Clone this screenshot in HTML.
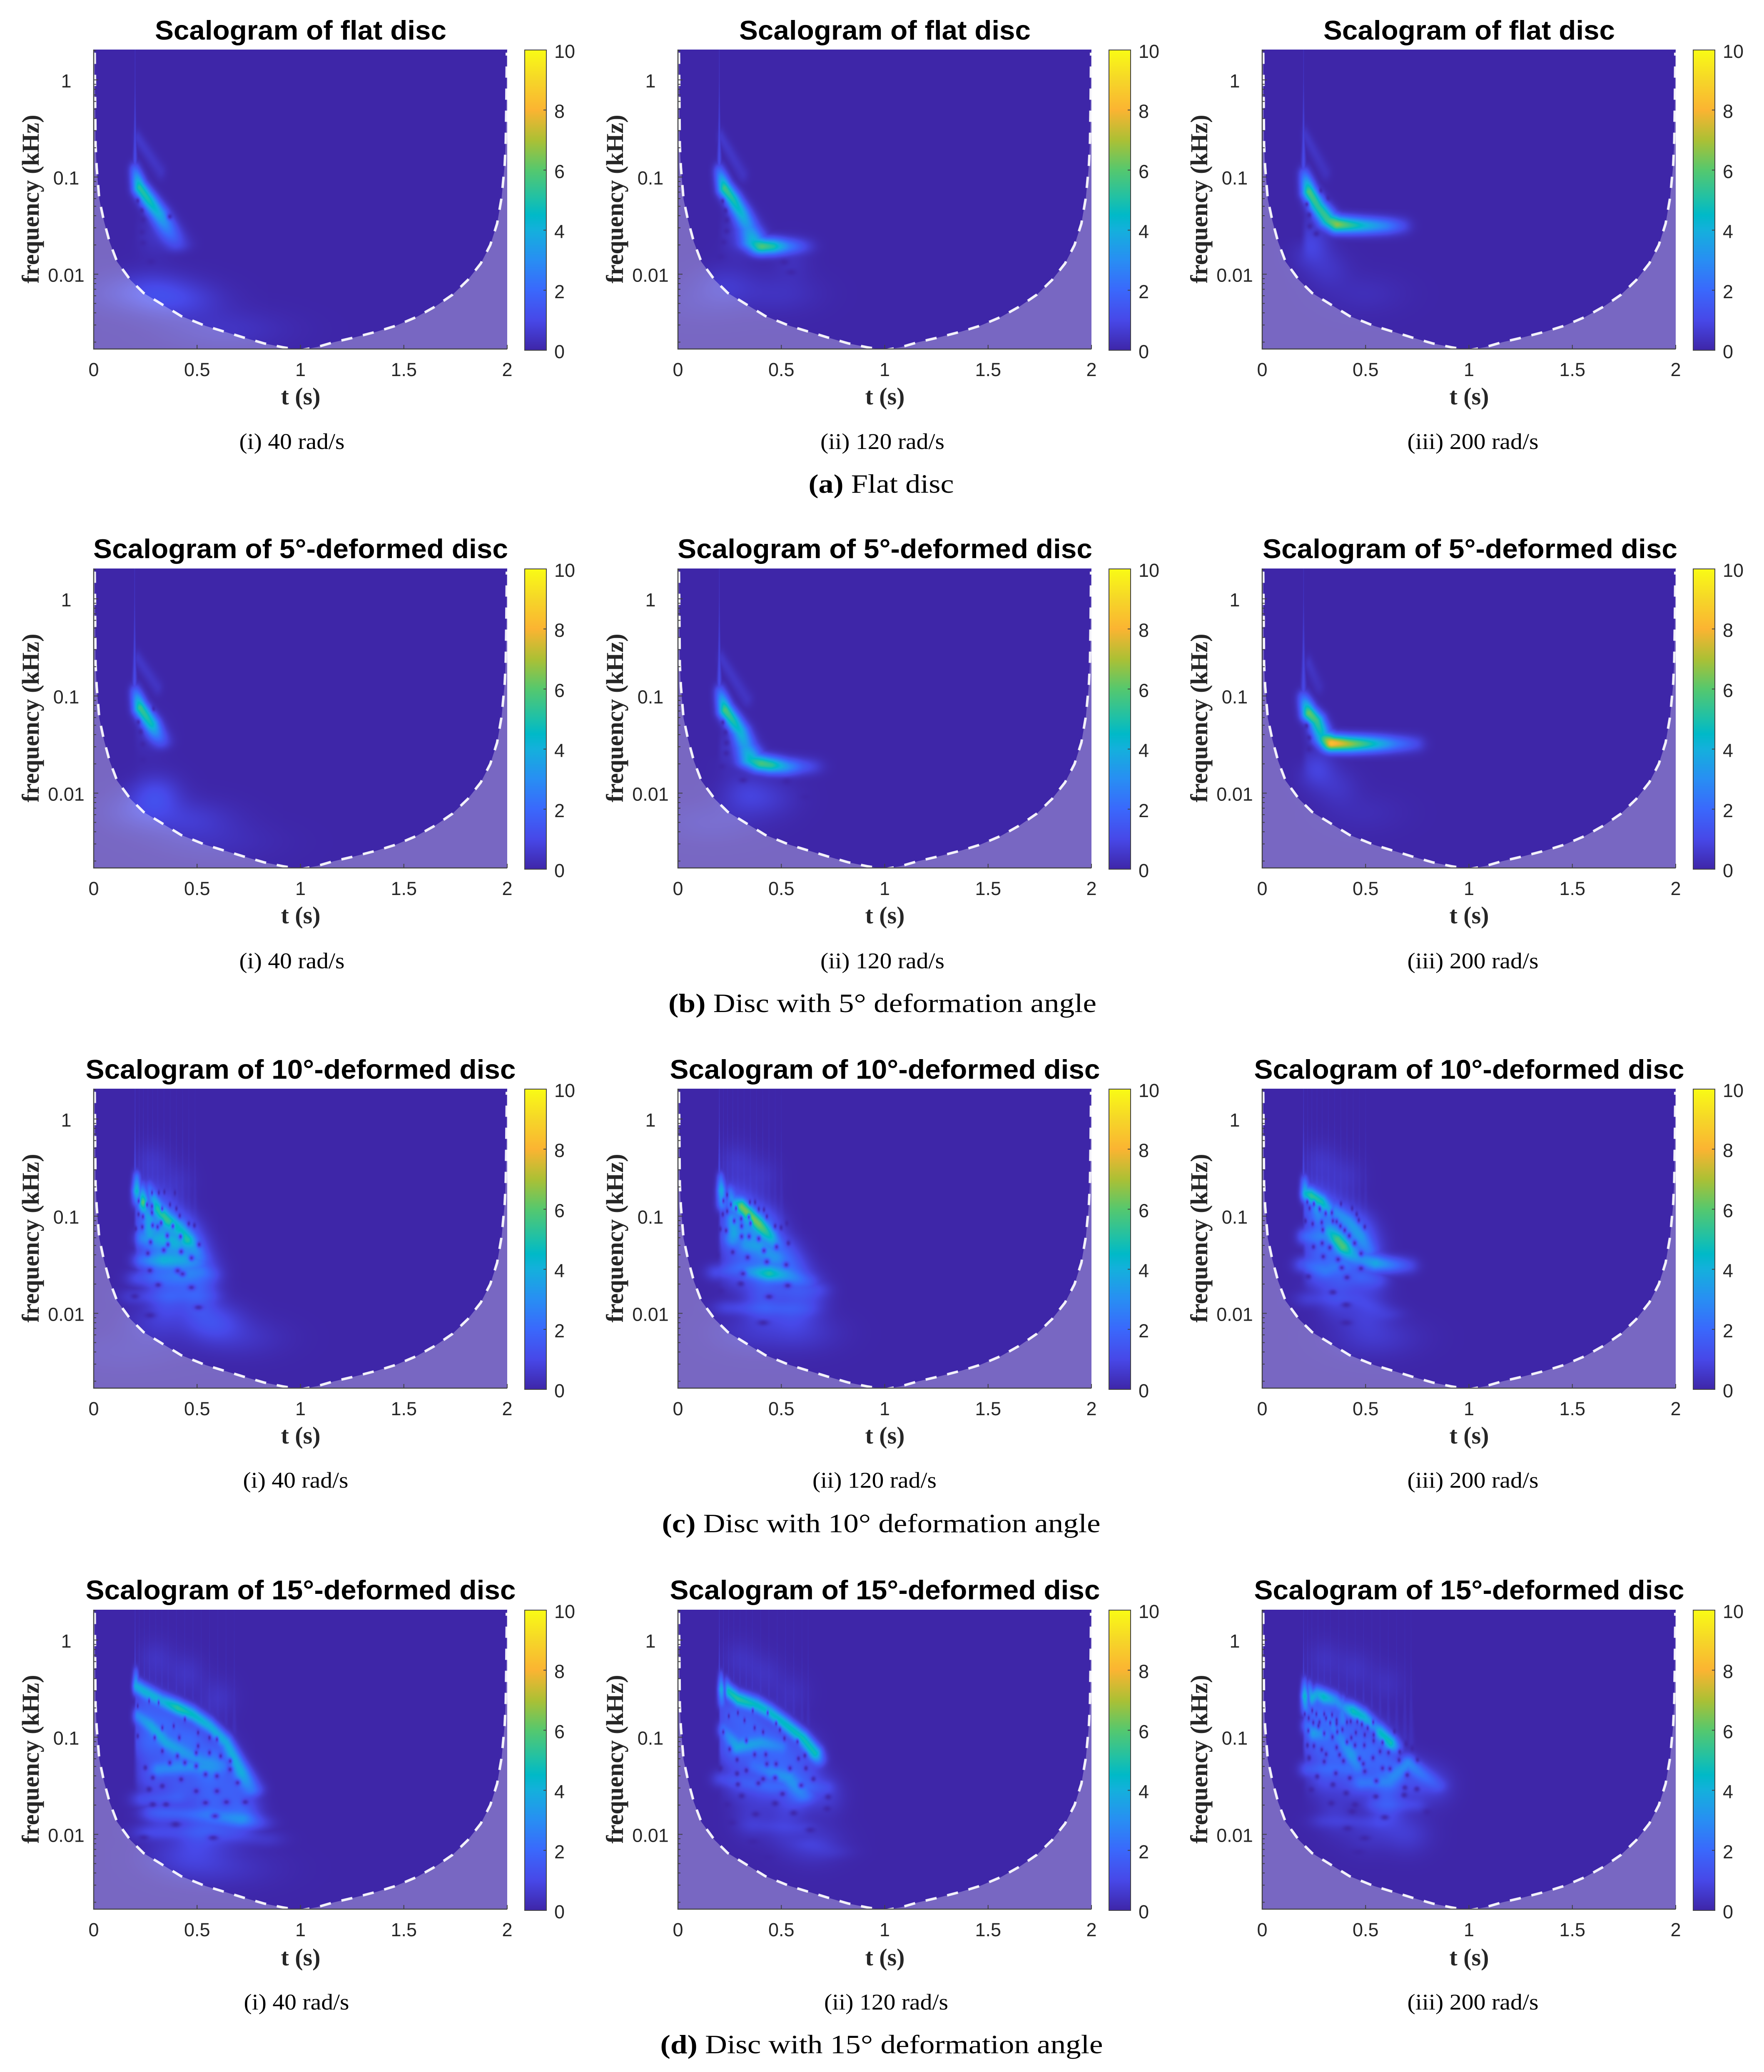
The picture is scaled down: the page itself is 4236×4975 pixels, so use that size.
<!DOCTYPE html>
<html lang="en">
<head>
<meta charset="utf-8">
<title>Scalograms of flat and deformed discs</title>
<style>
html,body{margin:0;padding:0;background:#fff;}
#figure{position:relative;width:4236px;height:4975px;overflow:hidden;background:#fff;}
#figure canvas{position:absolute;display:block;}
#overlay{position:absolute;left:0;top:0;}
.title{font:bold 65px "Liberation Sans",Arial,sans-serif;fill:#000;text-anchor:middle;}
.axl{font:bold 58px "Liberation Serif","Times New Roman",serif;fill:#262626;text-anchor:middle;}
.sub{font:54px "Liberation Serif","Times New Roman",serif;fill:#000;text-anchor:middle;}
.cap{font:64px "Liberation Serif","Times New Roman",serif;fill:#000;text-anchor:middle;}
.cap tspan{font-weight:bold;}
.tick{font:45px "Liberation Sans",Arial,sans-serif;fill:#262626;}
</style>
</head>
<body>
<div id="figure">
<svg id="overlay" width="4236" height="4975" viewBox="0 0 4236 4975" xmlns="http://www.w3.org/2000/svg">
<defs id="defs"></defs>
<g id="axes-layer"></g>

<text class="title" x="722" y="95" textLength="700" lengthAdjust="spacingAndGlyphs">Scalogram of flat disc</text>
<text class="title" x="2125" y="95" textLength="700" lengthAdjust="spacingAndGlyphs">Scalogram of flat disc</text>
<text class="title" x="3528" y="95" textLength="700" lengthAdjust="spacingAndGlyphs">Scalogram of flat disc</text>
<text class="title" x="722" y="1340" textLength="996" lengthAdjust="spacingAndGlyphs">Scalogram of 5°-deformed disc</text>
<text class="title" x="2125" y="1340" textLength="996" lengthAdjust="spacingAndGlyphs">Scalogram of 5°-deformed disc</text>
<text class="title" x="3530" y="1340" textLength="996" lengthAdjust="spacingAndGlyphs">Scalogram of 5°-deformed disc</text>
<text class="title" x="722" y="2590" textLength="1033" lengthAdjust="spacingAndGlyphs">Scalogram of 10°-deformed disc</text>
<text class="title" x="2125" y="2590" textLength="1033" lengthAdjust="spacingAndGlyphs">Scalogram of 10°-deformed disc</text>
<text class="title" x="3528" y="2590" textLength="1033" lengthAdjust="spacingAndGlyphs">Scalogram of 10°-deformed disc</text>
<text class="title" x="722" y="3840" textLength="1033" lengthAdjust="spacingAndGlyphs">Scalogram of 15°-deformed disc</text>
<text class="title" x="2125" y="3840" textLength="1033" lengthAdjust="spacingAndGlyphs">Scalogram of 15°-deformed disc</text>
<text class="title" x="3528" y="3840" textLength="1033" lengthAdjust="spacingAndGlyphs">Scalogram of 15°-deformed disc</text>

<text class="axl" x="722" y="971">t (s)</text>
<text class="axl" x="2125" y="971">t (s)</text>
<text class="axl" x="3528" y="971">t (s)</text>
<text class="axl" x="722" y="2217">t (s)</text>
<text class="axl" x="2125" y="2217">t (s)</text>
<text class="axl" x="3528" y="2217">t (s)</text>
<text class="axl" x="722" y="3466">t (s)</text>
<text class="axl" x="2125" y="3466">t (s)</text>
<text class="axl" x="3528" y="3466">t (s)</text>
<text class="axl" x="722" y="4719">t (s)</text>
<text class="axl" x="2125" y="4719">t (s)</text>
<text class="axl" x="3528" y="4719">t (s)</text>

<text class="axl" transform="translate(93,478) rotate(-90)" textLength="405" lengthAdjust="spacingAndGlyphs">frequency (kHz)</text>
<text class="axl" transform="translate(1496,478) rotate(-90)" textLength="405" lengthAdjust="spacingAndGlyphs">frequency (kHz)</text>
<text class="axl" transform="translate(2899,478) rotate(-90)" textLength="405" lengthAdjust="spacingAndGlyphs">frequency (kHz)</text>
<text class="axl" transform="translate(93,1724) rotate(-90)" textLength="405" lengthAdjust="spacingAndGlyphs">frequency (kHz)</text>
<text class="axl" transform="translate(1496,1724) rotate(-90)" textLength="405" lengthAdjust="spacingAndGlyphs">frequency (kHz)</text>
<text class="axl" transform="translate(2899,1724) rotate(-90)" textLength="405" lengthAdjust="spacingAndGlyphs">frequency (kHz)</text>
<text class="axl" transform="translate(93,2973) rotate(-90)" textLength="405" lengthAdjust="spacingAndGlyphs">frequency (kHz)</text>
<text class="axl" transform="translate(1496,2973) rotate(-90)" textLength="405" lengthAdjust="spacingAndGlyphs">frequency (kHz)</text>
<text class="axl" transform="translate(2899,2973) rotate(-90)" textLength="405" lengthAdjust="spacingAndGlyphs">frequency (kHz)</text>
<text class="axl" transform="translate(93,4224) rotate(-90)" textLength="405" lengthAdjust="spacingAndGlyphs">frequency (kHz)</text>
<text class="axl" transform="translate(1496,4224) rotate(-90)" textLength="405" lengthAdjust="spacingAndGlyphs">frequency (kHz)</text>
<text class="axl" transform="translate(2899,4224) rotate(-90)" textLength="405" lengthAdjust="spacingAndGlyphs">frequency (kHz)</text>

<text class="sub" x="701" y="1078" textLength="253" lengthAdjust="spacingAndGlyphs">(i) 40 rad/s</text>
<text class="sub" x="2119" y="1078" textLength="298" lengthAdjust="spacingAndGlyphs">(ii) 120 rad/s</text>
<text class="sub" x="3537" y="1078" textLength="315" lengthAdjust="spacingAndGlyphs">(iii) 200 rad/s</text>
<text class="sub" x="701" y="2325" textLength="253" lengthAdjust="spacingAndGlyphs">(i) 40 rad/s</text>
<text class="sub" x="2119" y="2325" textLength="298" lengthAdjust="spacingAndGlyphs">(ii) 120 rad/s</text>
<text class="sub" x="3537" y="2325" textLength="315" lengthAdjust="spacingAndGlyphs">(iii) 200 rad/s</text>
<text class="sub" x="710" y="3572" textLength="253" lengthAdjust="spacingAndGlyphs">(i) 40 rad/s</text>
<text class="sub" x="2100" y="3572" textLength="298" lengthAdjust="spacingAndGlyphs">(ii) 120 rad/s</text>
<text class="sub" x="3537" y="3572" textLength="315" lengthAdjust="spacingAndGlyphs">(iii) 200 rad/s</text>
<text class="sub" x="712" y="4825" textLength="253" lengthAdjust="spacingAndGlyphs">(i) 40 rad/s</text>
<text class="sub" x="2128" y="4825" textLength="298" lengthAdjust="spacingAndGlyphs">(ii) 120 rad/s</text>
<text class="sub" x="3537" y="4825" textLength="315" lengthAdjust="spacingAndGlyphs">(iii) 200 rad/s</text>

<text class="cap" x="2116" y="1183" textLength="349" lengthAdjust="spacingAndGlyphs"><tspan>(a)</tspan>&#160;Flat disc</text>
<text class="cap" x="2119" y="2430" textLength="1028" lengthAdjust="spacingAndGlyphs"><tspan>(b)</tspan>&#160;Disc with 5° deformation angle</text>
<text class="cap" x="2116" y="3679" textLength="1053" lengthAdjust="spacingAndGlyphs"><tspan>(c)</tspan>&#160;Disc with 10° deformation angle</text>
<text class="cap" x="2117" y="4930" textLength="1063" lengthAdjust="spacingAndGlyphs"><tspan>(d)</tspan>&#160;Disc with 15° deformation angle</text>
</svg>
</div>

<script>
// Axis ticks
const xTicks = [0, 0.5, 1, 1.5, 2];
const xTickLabels = ["0", "0.5", "1", "1.5", "2"];
const yMajorTicks = [1, 0.1, 0.01];
const yMajorLabels = ["1", "0.1", "0.01"];
const yMinorTicks = [2, 0.9, 0.8, 0.7, 0.6, 0.5, 0.4, 0.3, 0.2, 0.09, 0.08, 0.07, 0.06, 0.05, 0.04, 0.03, 0.02, 0.009, 0.008, 0.007, 0.006, 0.005, 0.004, 0.003, 0.002];
const colorbarTicks = [0, 2, 4, 6, 8, 10];
const colorbarLabels = ["0", "2", "4", "6", "8", "10"];

// Cone of influence: time (s) and log10 frequency (kHz)
const coiT = [0.005, 0.007, 0.009, 0.0146, 0.027, 0.049, 0.077, 0.113, 0.177, 0.241, 0.332, 0.423, 0.541, 0.724, 0.824, 0.915, 1, 1.08, 1.161, 1.262, 1.371, 1.462, 1.562, 1.654, 1.736, 1.809, 1.872, 1.918, 1.951, 1.973, 1.988, 1.993, 1.996, 1.998];
const coiF = [0.28, -0.19, -0.67, -0.905, -1.227, -1.447, -1.668, -1.871, -2.058, -2.193, -2.312, -2.431, -2.532, -2.651, -2.712, -2.752, -2.782, -2.75, -2.7, -2.65, -2.59, -2.53, -2.44, -2.33, -2.21, -2.06, -1.89, -1.7, -1.48, -1.21, -0.87, -0.63, -0.19, 0.28];

// Colour map: position, r, g, b
const parulaStops = [[0,62,38,168],[0.1,71,72,232],[0.2,58,104,252],[0.3,40,142,243],[0.4,20,176,220],[0.45,0,185,200],[0.5,28,192,170],[0.6,85,200,110],[0.7,172,192,52],[0.8,251,180,50],[0.9,246,214,40],[1,249,251,21]];

// Panel a1: flat disc, 40 rad/s
const a1RidgeT = [.2,.222,.268,.314,.359,.396,null,.213,.323];
const a1RidgeF = [-.94,-1.108,-1.244,-1.38,-1.55,-1.685,null,-.6,-.94];
const a1RidgeV = [2,5.2,4.9,4,2.4,1.1,null,.55,.4];
const a1HoleT = [.213,.232,.237,.232,.237,.277,.368];
const a1HoleF = [-1.244,-1.346,-1.44,-1.566,-1.678,-1.87,-1.407];
const a1HazeT = [.405,.277,.64,.09,.3];
const a1HazeF = [-2.26,-2.16,-2.57,-2.2,-1.6];
const a1HazeV = [.8,.6,.4,.3,.4];
const a1FanT = [.2];
const a1FanF = [-1];
const a1FanV = [1.1];

// Panel a2: flat disc, 120 rad/s
const a2RidgeT = [.2,.226,.266,.306,.34,.367,.407,.454,.514,.588,null,.209,.313];
const a2RidgeF = [-.95,-1.115,-1.23,-1.376,-1.525,-1.67,-1.714,-1.714,-1.714,-1.714,null,-.59,-.97];
const a2RidgeV = [2,5.6,5,4.2,3.1,4.3,5.8,5.1,2.9,1.1,null,.55,.4];
const a2HoleT = [.216,.229,.235,.235,.219,.205,.514,.548];
const a2HoleF = [-1.248,-1.347,-1.445,-1.556,-1.67,-1.82,-1.877,-1.98];
const a2HazeT = [.232,.3,.5,.12,.55];
const a2HazeF = [-2.11,-1.6,-2.2,-2.3,-1.85];
const a2HazeV = [.5,.6,.35,.2,.3];
const a2FanT = [.2];
const a2FanF = [-1];
const a2FanV = [1.1];

// Panel a3: flat disc, 200 rad/s
const a3RidgeT = [.205,.227,.27,.32,.363,.421,.485,.593,.665,null,.209,.306];
const a3RidgeF = [-.983,-1.151,-1.304,-1.442,-1.488,-1.495,-1.5,-1.503,-1.503,null,-.57,-.95];
const a3RidgeV = [2,5.8,5.3,5.5,6.6,5.4,4.3,2.7,1.2,null,.5,.35];
const a3HoleT = [.216,.227,.23,.262,.284,.32];
const a3HoleF = [-1.28,-1.39,-1.506,-1.583,-1.136,-1.213];
const a3HazeT = [.234,.32,.5,.25];
const a3HazeF = [-1.717,-1.947,-2.2,-1.45];
const a3HazeV = [.8,.4,.25,.3];
const a3FanT = [.2];
const a3FanF = [-1];
const a3FanV = [1.1];

// Panel b1: 5 degrees, 40 rad/s
const b1RidgeT = [.203,.225,.25,.279,.3,.322,null,.214,.308];
const b1RidgeF = [-.97,-1.122,-1.199,-1.291,-1.383,-1.459,null,-.618,-.908];
const b1RidgeV = [2,5.5,5.2,4.7,2.9,1.4,null,.5,.4];
const b1HoleT = [.216,.226,.236,.236,.29];
const b1HoleF = [-1.268,-1.37,-1.497,-1.658,-1.13];
const b1HazeT = [.3,.466,.22,.27,.6];
const b1HazeF = [-2.01,-2.27,-2.19,-1.4,-2.5];
const b1HazeV = [.95,.55,.5,.3,.25];
const b1FanT = [.198];
const b1FanF = [-1];
const b1FanV = [1.1];

// Panel b2: 5 degrees, 120 rad/s
const b2RidgeT = [.204,.229,.268,.301,.326,.355,.405,.448,.513,.578,.628,null,.211,.333];
const b2RidgeF = [-.97,-1.145,-1.26,-1.367,-1.52,-1.658,-1.696,-1.711,-1.727,-1.727,-1.727,null,-.618,-1.03];
const b2RidgeV = [2,5.8,5,4.2,3.4,4.6,5.7,5.3,3.4,1.7,1,null,.5,.4];
const b2HoleT = [.217,.229,.234,.233,.211,.315,.527,.621];
const b2HoleF = [-1.272,-1.375,-1.482,-1.589,-1.727,-1.865,-1.88,-2.04];
const b2HazeT = [.326,.455,.25,.16];
const b2HazeF = [-2.01,-2.06,-1.55,-2.3];
const b2HazeV = [.65,.4,.4,.3];
const b2FanT = [.2];
const b2FanF = [-1];
const b2FanV = [1.1];

// Panel b3: 5 degrees, 200 rad/s
const b3RidgeT = [.2,.226,.263,.291,.337,.42,.53,.64,.733,null,.226,.273];
const b3RidgeF = [-1.03,-1.176,-1.258,-1.42,-1.487,-1.493,-1.493,-1.493,-1.493,null,-.67,-.9];
const b3RidgeV = [2,6.2,5.5,4.4,8.4,6.8,4.7,2.4,1.1,null,.45,.3];
const b3HoleT = [.214,.226,.226];
const b3HoleF = [-1.307,-1.431,-1.546];
const b3HazeT = [.263,.365,.5];
const b3HazeF = [-1.748,-1.94,-2.2];
const b3HazeV = [.8,.4,.2];
const b3FanT = [.2];
const b3FanF = [-1];
const b3FanV = [1];

// Panel c1: 10 degrees, 40 rad/s
const c1RidgeT = [.208,.208,.21,null,.235,.238,.245,.265,.27,null,.27,.309,.356,.413,.456,.48,.51,null,.238,.33,.4,null,.238,.339,.426,.5,null,.22,.38,.52,.56,null,.2,.37,.55];
const c1RidgeF = [-.62,-.74,-.82,null,-.72,-.857,-.95,-1.02,-1.2,null,-.72,-.923,-1.037,-1.12,-1.243,-1.3,-1.42,null,-1.23,-1.24,-1.28,null,-1.456,-1.456,-1.456,-1.47,null,-1.64,-1.64,-1.58,-1.6,null,-1.83,-1.83,-1.82];
const c1RidgeV = [3,5,3,null,2.2,6.5,3,3.2,3,null,2,5.3,5.5,4,5,3,2,null,2.4,2.8,2.4,null,2.3,3.8,3,1.8,null,1.3,1.4,1.8,1.2,null,.8,1.3,1];
const c1HoleT = [.218,.217,.238,.203,.235,.258,.282,.282,.285,.309,.326,.331,.356,.383,.42,.359,.339,.275,.262,.423,.51,.473,.272,.406,.43,.312,.473,.507,.272,.198,.46,.487,.416,.4,.369,.282,.315,.342,.393];
const c1HoleF = [-.844,-.98,-1.005,-1.128,-1.111,-.882,-.898,-.964,-1.095,-1.111,-1.07,-.923,-1.201,-1.103,-1.21,-1.292,-1.349,-1.267,-1.382,-1.365,-1.292,-1.431,-1.559,-1.562,-1.595,-1.707,-1.734,-1.939,-2.021,-1.825,-1.078,-1.095,-.996,-.923,-.882,-.759,-.759,-.75,-.759];
const c1HazeT = [.25,.33,.42,.26,.36,.47,.3,.42,.53,.35,.5,.574,.3,.28,.4,.15,.72];
const c1HazeF = [-.85,-1,-1.15,-1.2,-1.3,-1.35,-1.55,-1.6,-1.6,-1.85,-1.85,-2.087,-2.1,-.45,-.65,-2.4,-2.25];
const c1HazeV = [1.3,1.6,1.5,1.7,1.8,1.6,1.4,1.4,1.2,1,1,1.1,.5,.45,.35,.2,.4];
const c1FanT = [.2,.22,.24,.262,.285,.31,.34,.37,.4,.43,.46,.49];
const c1FanF = [-.8,-.7,-.7,-.72,-.75,-.8,-.85,-.9,-.95,-1,-1.05,-1.1];
const c1FanV = [1.1,.45,.45,.45,.4,.4,.4,.35,.35,.35,.3,.3];

// Panel c2: 10 degrees, 120 rad/s
const c2RidgeT = [.207,.21,.212,null,.254,.265,.308,.394,.448,.47,null,.261,.268,.261,null,.333,.39,.47,null,.35,.441,.527,.614,null,.19,.312,.38,null,.254,.427,.6,null,.671,.5];
const c2RidgeF = [-.63,-.735,-.86,null,-.766,-.873,-.903,-1.087,-1.209,-1.28,null,-1.04,-1.179,-1.24,null,-1.301,-1.32,-1.42,null,-1.57,-1.592,-1.615,-1.668,null,-1.577,-1.53,-1.56,null,-1.944,-1.951,-1.96,null,-1.76,-1.78];
const c2RidgeV = [2.5,4.5,3,null,2.5,3.5,7,6.6,4.5,2.5,null,3,3.3,2.8,null,2.4,2.4,2.4,null,3,5.2,3,1.5,null,1.2,1.7,2.3,null,1,1.4,1,null,.9,.8];
const c2HoleT = [.22,.238,.256,.281,.238,.217,.272,.306,.308,.343,.351,.204,.233,.308,.344,.391,.477,.416,.534,.265,.189,.337,.43,.524,.315,.304,.531,.204,.441,.412,.348,.373,.391,.416,.43,.47,.499,.527];
const c2HoleF = [-.842,-.781,-.88,-.919,-.949,-.98,-1.049,-1.026,-1.102,-1.01,-1.072,-1.133,-1.148,-1.209,-1.209,-1.232,-1.316,-1.355,-1.278,-1.37,-1.4,-1.424,-1.469,-1.5,-1.592,-1.696,-1.714,-1.772,-1.829,-2.097,-.857,-.857,-.926,-.934,-1.003,-1.102,-1.118,-1.072];
const c2HazeT = [.25,.33,.42,.27,.38,.5,.28,.42,.56,.4,.55,.65,.6,.35,.28,.4];
const c2HazeF = [-.85,-1,-1.1,-1.2,-1.3,-1.4,-1.55,-1.6,-1.6,-1.9,-1.95,-1.8,-2.2,-2.2,-.45,-.6];
const c2HazeV = [1.2,1.5,1.4,1.6,1.8,1.5,1.1,1.6,1.3,1,1,.7,.5,.4,.45,.4];
const c2FanT = [.2,.22,.24,.265,.29,.32,.35,.38,.41,.44,.47,.5];
const c2FanF = [-.65,-.7,-.7,-.72,-.75,-.8,-.85,-.9,-.95,-1,-1.05,-1.1];
const c2FanV = [1.1,.45,.45,.45,.4,.4,.4,.35,.35,.35,.3,.3];

// Panel c3: 10 degrees, 200 rad/s
const c3RidgeT = [.205,.209,.237,.291,.32,null,.262,.27,null,.356,.421,.478,.514,null,.327,.363,.392,.428,.478,.55,.615,.701,null,.205,.32,null,.205,.306,.392,null,.485,.55,null,.234,.45,.593];
const c3RidgeF = [-.66,-.766,-.789,-.857,-.919,null,-.903,-1,null,-.949,-1.056,-1.209,-1.347,null,-1.163,-1.24,-1.316,-1.393,-1.446,-1.485,-1.5,-1.508,null,-1.209,-1.209,null,-1.5,-1.561,-1.5,null,-1.638,-1.66,null,-1.852,-1.852,-2.005];
const c3RidgeV = [2.6,5,6,5.2,3.5,null,3,2,null,2.5,3,3,2.2,null,3.8,6,6.2,3.8,2.8,4.2,3,1.3,null,2,2,null,1.6,2.1,1.6,null,1.3,1.1,null,.8,.9,.7];
const c3HoleT = [.218,.25,.229,.278,.307,.337,.209,.244,.288,.293,.342,.36,.378,.399,.421,.447,.478,.248,.29,.327,.295,.367,.385,.478,.223,.41,.342,.406,.406,.457,.467,.496,.435,.381];
const c3HoleF = [-.854,-.873,-.919,-.926,-.972,-.965,-1.049,-1.079,-1.064,-1.14,-1.049,-1.056,-1.102,-1.145,-1.202,-1.278,-1.385,-1.316,-1.278,-1.324,-1.416,-1.446,-1.531,-1.538,-1.622,-1.63,-1.783,-1.913,-2.097,-.98,-1.041,-1.11,-.919,-.873];
const c3HazeT = [.24,.3,.38,.46,.27,.38,.5,.27,.4,.52,.35,.5,.55,.28,.4];
const c3HazeF = [-.85,-1,-1.05,-1.15,-1.25,-1.35,-1.35,-1.55,-1.6,-1.65,-1.85,-2,-2.25,-.45,-.6];
const c3HazeV = [1.2,1.3,1.1,1.3,1.3,1.3,1.1,1.3,1.1,.9,.7,.6,.5,.45,.4];
const c3FanT = [.2,.22,.24,.265,.29,.32,.35,.38,.41,.44,.47,.5];
const c3FanF = [-.65,-.65,-.68,-.7,-.72,-.75,-.8,-.85,-.9,-.95,-1,-1.05];
const c3FanV = [1,.45,.45,.45,.4,.4,.4,.35,.35,.35,.3,.3];

// Panel d1: 15 degrees, 40 rad/s
const d1RidgeT = [.204,.204,.241,.332,.405,.478,.56,.642,.715,.76,null,.213,.277,.35,.43,.532,.62,null,.314,.496,.6,null,.295,.55,.715,.78,null,.241,.4,null,.277,.55,.824];
const d1RidgeF = [-.36,-.474,-.525,-.628,-.697,-.765,-.885,-1.057,-1.366,-1.537,null,-.782,-.885,-1.057,-1.15,-1.263,-1.3,null,-1.33,-1.3,-1.31,null,-1.778,-1.8,-1.846,-1.88,null,-1.64,-1.62,null,-1.983,-1.98,-2.05];
const d1RidgeV = [2.2,4.5,4.8,4.5,6,5.2,4.6,4.4,4.5,2.8,null,3,3.8,3.8,3,2.6,2,null,2.8,2.8,2.2,null,1.5,2.2,3,1.3,null,1.3,1.3,null,1.1,1,.6];
const d1HoleT = [.213,.268,.314,.213,.295,.332,.387,.441,.414,.505,.505,.56,.596,.332,.405,.441,.496,.496,.56,.614,.66,.66,.596,.541,.423,.286,.696,.268,.332,.496,.596,.286,.35,.541,.642,.733,.396,.587,.578,.241,.25,.368];
const d1HoleF = [-.679,-.628,-.645,-.988,-1.005,-.903,-.885,-.817,-1.005,-.954,-1.091,-1.005,-1.023,-1.143,-1.194,-1.263,-1.16,-1.297,-1.16,-1.194,-1.246,-1.332,-1.4,-1.383,-1.434,-1.417,-1.469,-1.537,-1.503,-1.555,-1.555,-1.692,-1.692,-1.675,-1.668,-1.668,-1.898,-1.812,-2.035,-2.035,-1.314,-1.263];
const d1HazeT = [.25,.36,.48,.6,.26,.4,.54,.68,.28,.42,.56,.72,.32,.5,.45,.3,.45,.6,.62,.62];
const d1HazeF = [-.7,-.85,-1,-1.2,-1.05,-1.2,-1.35,-1.5,-1.4,-1.55,-1.65,-1.8,-1.8,-1.95,-2.22,-.2,-.35,-.6,-1.9,-2.35];
const d1HazeV = [1.4,1.5,1.5,1.5,1.6,1.6,1.5,1.3,1.2,1.2,1.3,1.6,.9,1.1,.6,.4,.4,.4,.8,.4];
const d1FanT = [.2,.22,.245,.27,.3,.33,.36,.4,.44,.48,.52,.56,.6,.64,.68];
const d1FanF = [-.5,-.4,-.4,-.45,-.5,-.5,-.55,-.6,-.65,-.7,-.8,-.85,-.95,-1,-1.1];
const d1FanV = [1,.5,.45,.45,.4,.4,.4,.4,.4,.35,.35,.35,.3,.3,.3];

// Panel d2: 15 degrees, 120 rad/s
const d2RidgeT = [.208,.21,.212,null,.235,.245,.29,.385,.448,.529,.605,.664,.677,null,.219,.286,.403,.5,null,.371,.533,.605,null,.21,.452,.713,null,.641,.731,null,.371,.6];
const d2RidgeF = [-.4,-.509,-.62,null,-.46,-.531,-.607,-.673,-.75,-.882,-1.013,-1.167,-1.221,null,-.925,-1.101,-1.057,-1.1,null,-1.298,-1.419,-1.605,null,-1.43,-1.518,-1.518,null,-2.11,-2.175,null,-1.912,-1.93];
const d2RidgeV = [2,4.5,2.5,null,2.2,5.5,6,5.2,5,5.3,5.5,5.5,3,null,2.3,3.8,3.2,2.2,null,1.8,3.2,2.4,null,1.1,1.6,1.1,null,.6,.5,null,.6,.7];
const d2HoleT = [.246,.29,.322,.362,.371,.412,.434,.475,.493,.515,.578,.219,.25,.331,.286,.371,.425,.475,.43,.583,.614,.542,.619,.205,.286,.331,.47,.412,.655,.29,.389,.596,.308,.506,.237,.47,.727,.722,.376,.56,.259,.641,.362,.434];
const d2HoleF = [-.783,-.75,-.827,-.728,-.904,-.947,-.75,-.86,-.925,-1.013,-1.046,-.947,-1.123,-1.035,-1.232,-1.178,-1.178,-1.276,-1.276,-1.221,-1.189,-1.32,-1.32,-1.32,-1.375,-1.342,-1.419,-1.43,-1.43,-1.485,-1.474,-1.496,-1.605,-1.583,-1.693,-1.682,-1.616,-1.737,-1.792,-1.781,-1.879,-1.956,-2.077,-2.241];
const d2HazeT = [.25,.36,.48,.6,.26,.38,.5,.62,.3,.42,.56,.72,.35,.5,.65,.3,.42,.55];
const d2HazeF = [-.75,-.85,-1,-1.15,-1.1,-1.15,-1.3,-1.45,-1.45,-1.5,-1.6,-1.6,-1.85,-1.9,-2.1,-.2,-.35,-.55];
const d2HazeV = [1.3,1.3,1.2,.9,1.5,1.3,1.3,1,.9,1,1.1,.6,.5,.5,.6,.35,.35,.3];
const d2FanT = [.2,.22,.245,.27,.3,.33,.36,.4,.44,.48,.52,.56,.6,.63];
const d2FanF = [-.45,-.42,-.42,-.45,-.5,-.5,-.55,-.6,-.65,-.7,-.8,-.85,-.95,-1];
const d2FanV = [1,.5,.45,.45,.4,.4,.4,.4,.4,.35,.35,.35,.3,.3];

// Panel d3: 15 degrees, 200 rad/s
const d3RidgeT = [.205,.206,.208,null,.228,.241,.266,.298,.356,.388,.439,.493,.55,.572,.622,.644,null,.388,.39,null,.212,.248,.306,null,.33,.385,.428,.46,null,.705,.766,.845,null,.485,.615,.705,null,.219,.413,null,.55,.629,.737,null,.306,.55];
const d3RidgeF = [-.46,-.578,-.7,null,-.5,-.593,-.555,-.586,-.624,-.685,-.731,-.792,-.9,-.953,-1.06,-1.098,null,-.66,-.82,null,-.884,-.96,-.976,null,-.85,-1.037,-1.175,-1.3,null,-1.267,-1.374,-1.496,null,-1.473,-1.458,-1.267,null,-1.328,-1.328,null,-1.695,-1.695,-1.695,null,-1.863,-1.88];
const d3RidgeV = [2.2,5,2.6,null,2.5,4.5,4.2,5.2,3.6,3.2,5.5,4.8,3.2,5,5.5,3,null,3,2.2,null,1.8,3.5,2,null,1.8,2.4,3.2,2.2,null,3.3,2.5,1.4,null,2.2,2.2,3.3,null,1.5,1.5,null,1.1,1.3,1,null,.7,.8];
const d3HoleT = [.206,.242,.262,.3,.338,.225,.247,.277,.309,.329,.36,.272,.41,.428,.46,.482,.51,.537,.36,.388,.223,.3,.363,.453,.496,.539,.64,.34,.431,.41,.449,.494,.539,.582,.219,.25,.288,.36,.57,.611,.665,.697,.726,.227,.309,.3,.374,.393,.536,.471,.489,.496,.662,.751,.582,.618,.266,.356,.424,.552,.701,.342,.69,.748,.237,.406,.55,.687,.334,.449,.435,.593,.798,.413,.496,.464];
const d3HoleF = [-.762,-.726,-.762,-.762,-.769,-.804,-.85,-.846,-.804,-.853,-.823,-.884,-.846,-.838,-.841,-.869,-.907,-.846,-.861,-.922,-.933,-.961,-.945,-.953,-.976,-.976,-.938,-.999,-1.006,-1.049,-1.083,-1.083,-1.037,-1.055,-1.083,-1.091,-1.129,-1.106,-1.147,-1.159,-1.152,-1.068,-1.114,-1.213,-1.175,-1.251,-1.182,-1.244,-1.213,-1.221,-1.274,-1.351,-1.236,-1.233,-1.32,-1.325,-1.404,-1.371,-1.42,-1.45,-1.389,-1.488,-1.519,-1.534,-1.542,-1.576,-1.611,-1.595,-1.68,-1.695,-1.764,-1.825,-1.771,-1.94,-2.039,-2.185];
const d3HazeT = [.24,.33,.44,.56,.25,.36,.48,.62,.3,.45,.6,.75,.85,.6,.35,.7,.5,.3,.45,.6];
const d3HazeF = [-.7,-.8,-.9,-1.05,-1.05,-1.15,-1.2,-1.3,-1.4,-1.45,-1.5,-1.45,-1.5,-1.75,-1.8,-2,-2,-.2,-.3,-.45];
const d3HazeV = [1.4,1.3,1.2,1.1,1.3,1.3,1.3,1.3,1.1,1.2,1.2,1,.5,.9,.5,.6,.4,.35,.35,.3];
const d3FanT = [.2,.22,.24,.27,.3,.33,.37,.41,.45,.49,.53,.57,.61,.65,.69,.72];
const d3FanF = [-.45,-.42,-.42,-.42,-.45,-.5,-.5,-.55,-.6,-.65,-.7,-.8,-.85,-.9,-1,-1.05];
const d3FanV = [.8,.5,.45,.45,.4,.4,.4,.4,.4,.4,.35,.35,.35,.3,.3,.3];

// Layout
const PW = 993, PH = 719;
const LEFTS = [225, 1628, 3031];
const TOPS = [119, 1365, 2614, 3865];
const LF_TOP = 0.312, LF_SPAN = 3.082;
const PX_PER_S = PW / 2, PX_PER_DEC = PH / LF_SPAN;
const SVGNS = 'http://www.w3.org/2000/svg';

function xScale(t) { return t * PX_PER_S; }
function yScale(lf) { return (LF_TOP - lf) * PX_PER_DEC; }

function panel(id, col, row, rT, rF, rV, hT, hF, zT, zF, zV, fT, fF, fV) {
  return { id, col, row, rT, rF, rV, hT, hF, zT, zF, zV, fT, fF, fV };
}
const panels = [
  panel('a1',0,0,a1RidgeT,a1RidgeF,a1RidgeV,a1HoleT,a1HoleF,a1HazeT,a1HazeF,a1HazeV,a1FanT,a1FanF,a1FanV),
  panel('a2',1,0,a2RidgeT,a2RidgeF,a2RidgeV,a2HoleT,a2HoleF,a2HazeT,a2HazeF,a2HazeV,a2FanT,a2FanF,a2FanV),
  panel('a3',2,0,a3RidgeT,a3RidgeF,a3RidgeV,a3HoleT,a3HoleF,a3HazeT,a3HazeF,a3HazeV,a3FanT,a3FanF,a3FanV),
  panel('b1',0,1,b1RidgeT,b1RidgeF,b1RidgeV,b1HoleT,b1HoleF,b1HazeT,b1HazeF,b1HazeV,b1FanT,b1FanF,b1FanV),
  panel('b2',1,1,b2RidgeT,b2RidgeF,b2RidgeV,b2HoleT,b2HoleF,b2HazeT,b2HazeF,b2HazeV,b2FanT,b2FanF,b2FanV),
  panel('b3',2,1,b3RidgeT,b3RidgeF,b3RidgeV,b3HoleT,b3HoleF,b3HazeT,b3HazeF,b3HazeV,b3FanT,b3FanF,b3FanV),
  panel('c1',0,2,c1RidgeT,c1RidgeF,c1RidgeV,c1HoleT,c1HoleF,c1HazeT,c1HazeF,c1HazeV,c1FanT,c1FanF,c1FanV),
  panel('c2',1,2,c2RidgeT,c2RidgeF,c2RidgeV,c2HoleT,c2HoleF,c2HazeT,c2HazeF,c2HazeV,c2FanT,c2FanF,c2FanV),
  panel('c3',2,2,c3RidgeT,c3RidgeF,c3RidgeV,c3HoleT,c3HoleF,c3HazeT,c3HazeF,c3HazeV,c3FanT,c3FanF,c3FanV),
  panel('d1',0,3,d1RidgeT,d1RidgeF,d1RidgeV,d1HoleT,d1HoleF,d1HazeT,d1HazeF,d1HazeV,d1FanT,d1FanF,d1FanV),
  panel('d2',1,3,d2RidgeT,d2RidgeF,d2RidgeV,d2HoleT,d2HoleF,d2HazeT,d2HazeF,d2HazeV,d2FanT,d2FanF,d2FanV),
  panel('d3',2,3,d3RidgeT,d3RidgeF,d3RidgeV,d3HoleT,d3HoleF,d3HazeT,d3HazeF,d3HazeV,d3FanT,d3FanF,d3FanV)
];

// Colour lookup
const LUT = (function () {
  const n = 1024, out = new Uint8Array(n * 3);
  for (let i = 0; i < n; i++) {
    const u = i / (n - 1);
    let k = 0;
    while (k < parulaStops.length - 2 && u > parulaStops[k + 1][0]) k++;
    const a = parulaStops[k], b = parulaStops[k + 1];
    const w = Math.min(1, Math.max(0, (u - a[0]) / (b[0] - a[0])));
    for (let c = 0; c < 3; c++) out[i * 3 + c] = Math.round(a[c + 1] + (b[c + 1] - a[c + 1]) * w);
  }
  return out;
})();

function forBox(t, lf, st, sy, reach, fn) {
  const cx = xScale(t), cy = yScale(lf);
  const sx = st * PX_PER_S, syp = sy * PX_PER_DEC;
  const x0 = Math.max(0, Math.floor(cx - reach * sx)), x1 = Math.min(PW - 1, Math.ceil(cx + reach * sx));
  const y0 = Math.max(0, Math.floor(cy - reach * syp)), y1 = Math.min(PH - 1, Math.ceil(cy + reach * syp));
  for (let y = y0; y <= y1; y++) {
    const dy = (y + 0.5 - cy) / syp;
    for (let x = x0; x <= x1; x++) {
      const dx = (x + 0.5 - cx) / sx;
      fn(y * PW + x, Math.exp(-0.5 * (dx * dx + dy * dy)));
    }
  }
}

function renderField(p) {
  const R = new Float32Array(PW * PH), Z = new Float32Array(PW * PH), M = new Float32Array(PW * PH).fill(1);
  const gain = p.row >= 2 ? 0.86 : 1;
  const ridgeSigma = lf => 0.0065 * Math.pow(10, -lf / 2);
  const fanSigma = lf => Math.max(0.0011, 0.0011 * Math.pow(10, -lf));
  function stamp(t, lf, v, st, sy) {
    forBox(t, lf, st, sy, 3, (i, g) => { const q = v * g; if (q > R[i]) R[i] = q; });
  }
  function stroke(t0, f0, v0, t1, f1, v1, fan) {
    const n = Math.max(1, Math.ceil(Math.max(Math.abs(t1 - t0) * PX_PER_S, Math.abs(f1 - f0) * PX_PER_DEC) / 3));
    for (let s = 0; s <= n; s++) {
      const w = s / n;
      const lf = f0 + (f1 - f0) * w;
      const level = v0 + (v1 - v0) * w;
      stamp(t0 + (t1 - t0) * w, lf, fan ? level : level * gain, fan ? fanSigma(lf) : ridgeSigma(lf), fan ? 0.045 : 0.06);
    }
  }
  for (let i = 0; i + 1 < p.rT.length; i++) {
    if (p.rT[i] === null || p.rT[i + 1] === null) continue;
    stroke(p.rT[i], p.rF[i], p.rV[i], p.rT[i + 1], p.rF[i + 1], p.rV[i + 1], false);
  }
  for (let i = 0; i < p.fT.length; i++) {
    stroke(p.fT[i], LF_TOP, p.fV[i] * 0.35, p.fT[i], p.fF[i], p.fV[i], true);
  }
  for (let i = 0; i < p.zT.length; i++) {
    const st = Math.min(0.2, Math.max(0.06, 0.0008 * Math.pow(10, -p.zF[i])));
    const v = p.zV[i];
    forBox(p.zT[i], p.zF[i], st, 0.14, 3, (k, g) => { Z[k] += v * g; });
  }
  for (let i = 0; i < p.hT.length; i++) {
    const st = 0.0018 * Math.pow(10, -p.hF[i] / 2);
    forBox(p.hT[i], p.hF[i], st, 0.022, 3, (k, g) => { M[k] *= 1 - 0.85 * g; });
  }
  const canvas = document.createElement('canvas');
  
  
  canvas.width = PW;
  canvas.height = PH;
  canvas.style.left = LEFTS[p.col] + 'px';
  canvas.style.top = TOPS[p.row] + 'px';
  canvas.style.width = PW + 'px';
  canvas.style.height = PH + 'px';
  const ctx = canvas.getContext('2d');
  const img = ctx.createImageData(PW, PH);
  const d = img.data;
  for (let y = 0; y < PH; y++) {
    const lf = LF_TOP - (y + 0.5) / PX_PER_DEC;
    const w = 0.0035 * Math.pow(10, -lf / 2);
    const blend = Math.min(1, Math.max(0, (lf + 1.9) / 0.3));
    for (let x = 0; x < PW; x++) {
      const i = y * PW + x;
      const t = (x + 0.5) / PX_PER_S;
      let s = Math.min(1, Math.max(0, (t - (0.2 - w)) / (2 * w)));
      s = s * s * (3 - 2 * s);
      const z = Z[i] * (1 - blend * (1 - s));
      const v = Math.sqrt(R[i] * R[i] + z * z) * M[i];
      const idx = Math.min(1023, Math.round(v / 10 * 1023));
      d[i * 4] = LUT[idx * 3];
      d[i * 4 + 1] = LUT[idx * 3 + 1];
      d[i * 4 + 2] = LUT[idx * 3 + 2];
      d[i * 4 + 3] = 255;
    }
  }
  ctx.putImageData(img, 0, 0);
  document.getElementById('figure').insertBefore(canvas, document.getElementById('overlay'));
}

function svgEl(tag, parent) {
  const el = document.createElementNS(SVGNS, tag);
  parent.appendChild(el);
  return el;
}

function buildGradient() {
  const defs = document.getElementById('defs');
  const g = svgEl('linearGradient', defs);
  g.setAttribute('id', 'parula');
  g.setAttribute('x1', '0');
  g.setAttribute('y1', '1');
  g.setAttribute('x2', '0');
  g.setAttribute('y2', '0');
  parulaStops.forEach(s => {
    const st = svgEl('stop', g);
    st.setAttribute('offset', s[0]);
    st.setAttribute('stop-color', 'rgb(' + s[1] + ',' + s[2] + ',' + s[3] + ')');
  });
}

function buildAxes(p) {
  const layer = document.getElementById('axes-layer');
  const L = LEFTS[p.col], T = TOPS[p.row];
  const defs = document.getElementById('defs');
  const clip = svgEl('clipPath', defs);
  clip.setAttribute('id', 'clip-' + p.id);
  const cr = svgEl('rect', clip);
  cr.setAttribute('x', 0);
  cr.setAttribute('y', 0);
  cr.setAttribute('width', PW);
  cr.setAttribute('height', PH);

  const g = svgEl('g', layer);
  
  
  g.setAttribute('transform', 'translate(' + L + ',' + T + ')');

  // cone of influence
  const pts = coiT.map((t, i) => xScale(t).toFixed(1) + ',' + yScale(coiF[i]).toFixed(1));
  const patch = svgEl('path', g);
  
  
  patch.setAttribute('d', 'M0,0 L' + pts.join(' L') + ' L' + PW + ',0 L' + PW + ',' + PH + ' L0,' + PH + ' Z');
  patch.setAttribute('fill', '#fff');
  patch.setAttribute('fill-opacity', '0.3');
  patch.setAttribute('clip-path', 'url(#clip-' + p.id + ')');
  const dash = svgEl('path', g);
  
  
  dash.setAttribute('d', 'M' + pts.join(' L'));
  dash.setAttribute('fill', 'none');
  dash.setAttribute('stroke', '#fff');
  dash.setAttribute('stroke-opacity', '0.92');
  dash.setAttribute('stroke-width', '6');
  dash.setAttribute('stroke-dasharray', '27 26');
  dash.setAttribute('clip-path', 'url(#clip-' + p.id + ')');

  // axis lines
  const ax = svgEl('path', g);
  
  
  ax.setAttribute('d', 'M0,0 V' + PH + ' H' + PW);
  ax.setAttribute('fill', 'none');
  ax.setAttribute('stroke', '#404040');
  ax.setAttribute('stroke-width', '2.5');

  // x ticks
  xTicks.forEach((t, i) => {
    const x = xScale(t);
    const tk = svgEl('line', g);
    
    
    tk.setAttribute('x1', x);
    tk.setAttribute('x2', x);
    tk.setAttribute('y1', PH);
    tk.setAttribute('y2', PH - 10);
    tk.setAttribute('stroke', '#404040');
    tk.setAttribute('stroke-width', '2');
    const lb = svgEl('text', g);
    
    
    lb.setAttribute('class', 'tick');
    lb.setAttribute('x', x);
    lb.setAttribute('y', PH + 65);
    lb.setAttribute('text-anchor', 'middle');
    lb.textContent = xTickLabels[i];
  });

  // y ticks
  yMajorTicks.forEach((f, i) => {
    const y = yScale(Math.log10(f));
    const tk = svgEl('line', g);
    
    
    tk.setAttribute('x1', 0);
    tk.setAttribute('x2', 11);
    tk.setAttribute('y1', y);
    tk.setAttribute('y2', y);
    tk.setAttribute('stroke', '#404040');
    tk.setAttribute('stroke-width', '2');
    const lb = svgEl('text', g);
    
    
    lb.setAttribute('class', 'tick');
    lb.setAttribute('x', -66);
    lb.setAttribute('y', y + 18);
    lb.setAttribute('text-anchor', 'middle');
    lb.textContent = yMajorLabels[i];
  });
  yMinorTicks.forEach((f, i) => {
    const y = yScale(Math.log10(f));
    const tk = svgEl('line', g);
    
    
    tk.setAttribute('x1', 0);
    tk.setAttribute('x2', 6);
    tk.setAttribute('y1', y);
    tk.setAttribute('y2', y);
    tk.setAttribute('stroke', '#404040');
    tk.setAttribute('stroke-width', '2');
  });

  // colour bar
  const cbX = 1035, cbW = 52, cbT = 1, cbH = 721;
  const cb = svgEl('rect', g);
  
  
  cb.setAttribute('x', cbX);
  cb.setAttribute('y', cbT);
  cb.setAttribute('width', cbW);
  cb.setAttribute('height', cbH);
  cb.setAttribute('fill', 'url(#parula)');
  cb.setAttribute('stroke', '#404040');
  cb.setAttribute('stroke-width', '2');
  colorbarTicks.forEach((v, i) => {
    const y = cbT + cbH - v / 10 * cbH;
    const tk = svgEl('line', g);
    
    
    tk.setAttribute('x1', cbX + cbW);
    tk.setAttribute('x2', cbX + cbW - 7);
    tk.setAttribute('y1', y);
    tk.setAttribute('y2', y);
    tk.setAttribute('stroke', '#404040');
    tk.setAttribute('stroke-width', '2');
    const lb = svgEl('text', g);
    
    
    lb.setAttribute('class', 'tick');
    lb.setAttribute('x', cbX + cbW + 19);
    lb.setAttribute('y', y + 19);
    lb.textContent = colorbarLabels[i];
  });
}

buildGradient();
panels.forEach(p => { renderField(p); buildAxes(p); });
</script>
</body>
</html>
